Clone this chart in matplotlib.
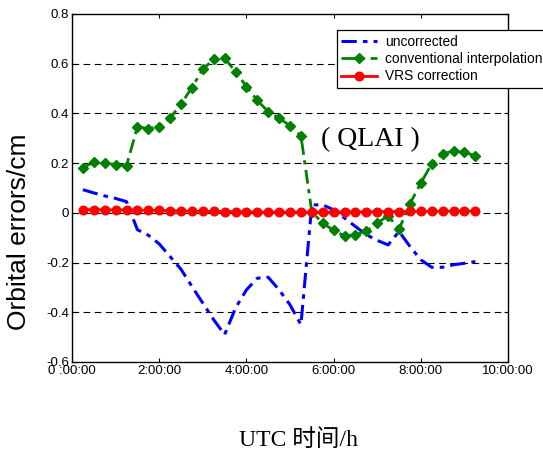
import matplotlib
matplotlib.use("Agg")
import matplotlib.pyplot as plt

# epochs (hours, UTC) and orbital errors (cm)
hours = [0.25, 0.5, 0.75, 1.0, 1.25, 1.5, 1.75, 2.0, 2.25, 2.5, 2.75, 3.0, 3.25,
         3.5, 3.75, 4.0, 4.25, 4.5, 4.75, 5.0, 5.25, 5.5, 5.75, 6.0, 6.25, 6.5,
         6.75, 7.0, 7.25, 7.5, 7.75, 8.0, 8.25, 8.5, 8.75, 9.0, 9.25]

uncorrected = [0.093, 0.080, 0.068, 0.058, 0.045, -0.068, -0.090, -0.125, -0.176,
               -0.227, -0.296, -0.363, -0.430, -0.490, -0.383, -0.310, -0.263,
               -0.259, -0.310, -0.370, -0.450, 0.032, 0.032, 0.012, -0.021,
               -0.055, -0.088, -0.111, -0.129, -0.075, -0.135, -0.189, -0.219,
               -0.219, -0.209, -0.203, -0.196]

conventional = [0.182, 0.204, 0.200, 0.194, 0.190, 0.345, 0.339, 0.347, 0.381,
                0.437, 0.504, 0.577, 0.618, 0.622, 0.568, 0.508, 0.452, 0.407,
                0.381, 0.350, 0.310, 0.003, -0.041, -0.071, -0.093, -0.088,
                -0.075, -0.041, -0.012, -0.066, 0.036, 0.120, 0.197, 0.237,
                0.249, 0.243, 0.229]

vrs = [0.013, 0.013, 0.012, 0.012, 0.012, 0.011, 0.010, 0.010, 0.009, 0.008,
       0.007, 0.006, 0.006, 0.005, 0.005, 0.004, 0.003, 0.003, 0.003, 0.003,
       0.003, 0.003, 0.003, 0.003, 0.004, 0.004, 0.004, 0.005, 0.005, 0.005,
       0.006, 0.006, 0.006, 0.006, 0.007, 0.007, 0.007]

xticks = [0, 2, 4, 6, 8, 10]
xticklabels = ["0 :00:00", "2:00:00", "4:00:00", "6:00:00", "8:00:00", "10:00:00"]
yticks = [-0.6, -0.4, -0.2, 0, 0.2, 0.4, 0.6, 0.8]
yticklabels = ["-0.6", "-0.4", "-0.2", "0", "0.2", "0.4", "0.6", "0.8"]

plt.rcParams["font.family"] = ["Liberation Sans", "DejaVu Sans"]

fig = plt.figure(figsize=(5.43, 4.55), dpi=100)
ax = fig.add_axes([0.1326, 0.2044, 0.803, 0.765])

# horizontal dashed grid
for yv in yticks[1:-1]:
    ax.axhline(yv, color="black", lw=0.8, ls=(0, (6, 4)), zorder=1)

ax.plot(hours, uncorrected, color="#0000ff", lw=2.2, ls=(0, (5, 2, 1.5, 2)),
        label="uncorrected", zorder=3)
ax.plot(hours, conventional, color="#008000", lw=2.0, ls=(0, (5, 2, 1.5, 2)),
        marker="D", ms=5.5, mfc="#008000", mec="#008000",
        label="conventional interpolation", zorder=4)
ax.plot(hours, vrs, color="#ff0000", lw=2.0, marker="o", ms=6.2,
        mfc="#ff0000", mec="#ff0000", label="VRS correction", zorder=5)

ax.set_xlim(0, 10)
ax.set_ylim(-0.6, 0.8)
ax.set_xticks(xticks)
ax.set_xticklabels(xticklabels, fontsize=9.5)
ax.set_yticks(yticks)
ax.set_yticklabels(yticklabels, fontsize=9.5)
ax.tick_params(direction="in", length=3, width=0.8, top=True, right=True, pad=2)
for s in ax.spines.values():
    s.set_linewidth(1.0)

leg = fig.legend(loc="upper left", bbox_to_anchor=(0.62, 0.933), fontsize=9.9,
                 frameon=True, fancybox=False, edgecolor="black", framealpha=1,
                 numpoints=1, handlelength=2.6, borderpad=0.3, labelspacing=0.25,
                 handletextpad=0.6, borderaxespad=0)
leg.get_frame().set_linewidth(0.9)

ax.text(0.685, 0.64, "( QLAI )", transform=ax.transAxes, fontsize=20,
        family=["Liberation Serif", "DejaVu Serif"], ha="center", va="center")

fig.text(0.035, 0.49, "Orbital errors/cm", rotation=90, fontsize=19,
         ha="center", va="center")
fig.text(0.55, 0.032, "UTC 时间/h", fontsize=17,
         family=["Liberation Serif", "Noto Sans CJK SC"], ha="center", va="center")

fig.savefig("out.png", dpi=100)
